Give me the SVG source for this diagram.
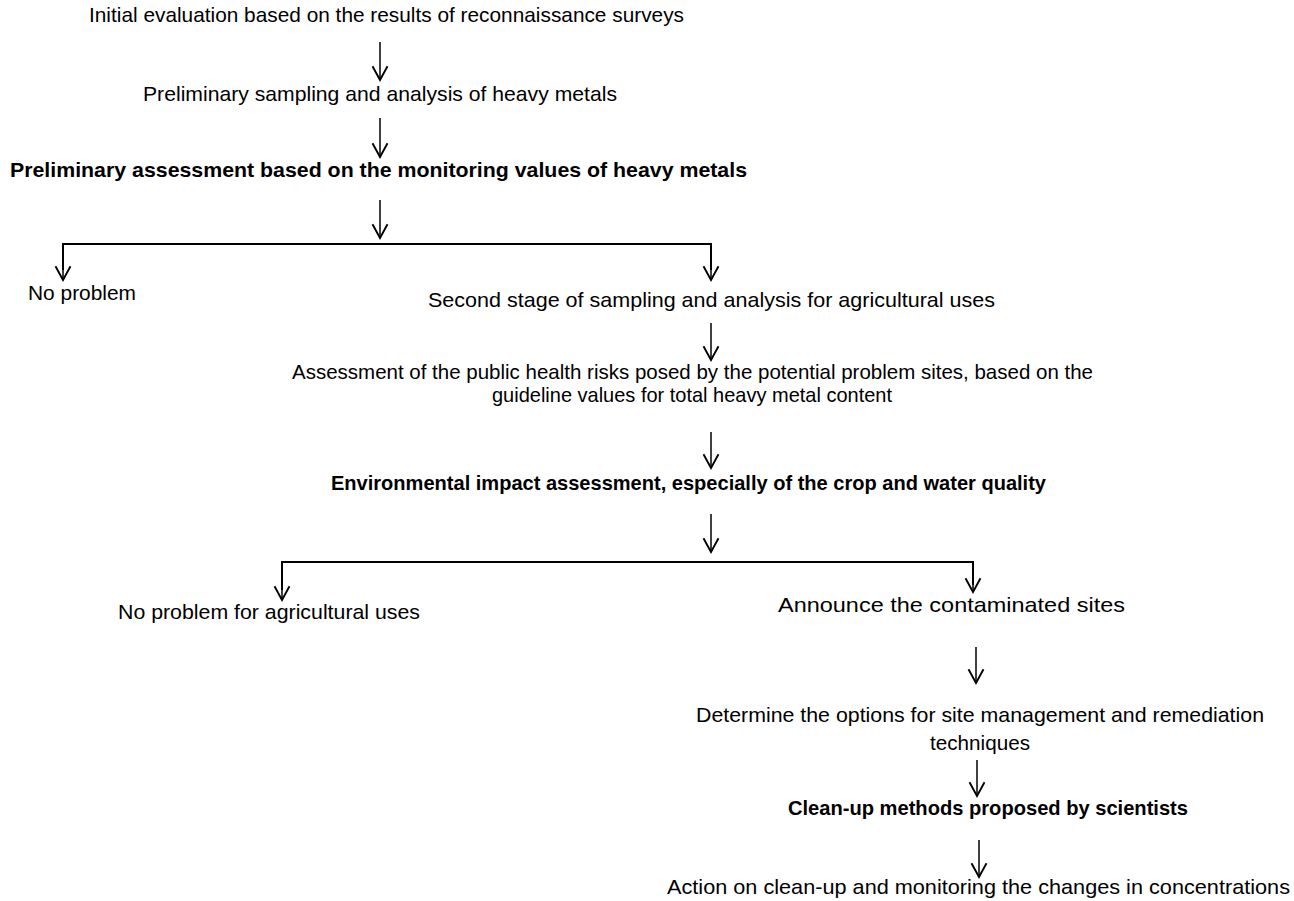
<svg xmlns="http://www.w3.org/2000/svg" width="1294" height="901" viewBox="0 0 1294 901">
<style>
.t{font-family:"Liberation Sans",Arial,sans-serif;font-size:21px;fill:#000}
.b{font-family:"Liberation Sans",Arial,sans-serif;font-size:21px;font-weight:bold;fill:#000}
.a{stroke:#000;stroke-width:1.5;fill:none;marker-end:url(#v)}
.h{stroke:#000;stroke-width:2;fill:none}
</style>
<defs>
<marker id="v" markerUnits="userSpaceOnUse" markerWidth="20" markerHeight="20" viewBox="-13 -8 15 16" refX="0" refY="0" orient="auto">
<path d="M-11,-6 L0,0 L-11,6" fill="none" stroke="#000" stroke-width="1.5"/>
</marker>
</defs>
<rect width="1294" height="901" fill="#fff"/>
<g id="connectors">
<line class="a" x1="380" y1="42" x2="380" y2="80"/>
<line class="a" x1="380" y1="118" x2="380" y2="157"/>
<line class="a" x1="380" y1="200" x2="380" y2="238"/>
<polyline class="h" points="63,270 63,244 711,244 711,270"/>
<line class="a" x1="63" y1="250" x2="63" y2="280"/>
<line class="a" x1="711" y1="250" x2="711" y2="280"/>
<line class="a" x1="711" y1="323" x2="711" y2="360"/>
<line class="a" x1="711" y1="432" x2="711" y2="468"/>
<line class="a" x1="711" y1="514" x2="711" y2="552"/>
<polyline class="h" points="282,590 282,562 973,562 973,585"/>
<line class="a" x1="282" y1="570" x2="282" y2="600"/>
<line class="a" x1="973" y1="570" x2="973" y2="592"/>
<line class="a" x1="976" y1="647" x2="976" y2="683"/>
<line class="a" x1="977" y1="760" x2="977" y2="796"/>
<line class="a" x1="979" y1="840" x2="979" y2="877"/>
</g>
<g id="n1"><text class="t" x="89" y="22" textLength="595" lengthAdjust="spacingAndGlyphs">Initial evaluation based on the results of reconnaissance surveys</text></g>
<g id="n2"><text class="t" x="143" y="101" textLength="474" lengthAdjust="spacingAndGlyphs">Preliminary sampling and analysis of heavy metals</text></g>
<g id="n3"><text class="b" x="10" y="177" textLength="737" lengthAdjust="spacingAndGlyphs">Preliminary assessment based on the monitoring values of heavy metals</text></g>
<g id="n4"><text class="t" x="28" y="300" textLength="108" lengthAdjust="spacingAndGlyphs">No problem</text></g>
<g id="n5"><text class="t" x="428" y="307" textLength="567" lengthAdjust="spacingAndGlyphs">Second stage of sampling and analysis for agricultural uses</text></g>
<g id="n6"><text class="t" x="292" y="379" textLength="801" lengthAdjust="spacingAndGlyphs">Assessment of the public health risks posed by the potential problem sites, based on the</text><text class="t" x="692" y="402" text-anchor="middle" textLength="400" lengthAdjust="spacingAndGlyphs">guideline values for total heavy metal content</text></g>
<g id="n7"><text class="b" x="331" y="490" textLength="715" lengthAdjust="spacingAndGlyphs">Environmental impact assessment, especially of the crop and water quality</text></g>
<g id="n8"><text class="t" x="118" y="619" textLength="302" lengthAdjust="spacingAndGlyphs">No problem for agricultural uses</text></g>
<g id="n9"><text class="t" x="778" y="612" textLength="347" lengthAdjust="spacingAndGlyphs">Announce the contaminated sites</text></g>
<g id="n10"><text class="t" x="696" y="722" textLength="568" lengthAdjust="spacingAndGlyphs">Determine the options for site management and remediation</text><text class="t" x="980" y="750" text-anchor="middle" textLength="100" lengthAdjust="spacingAndGlyphs">techniques</text></g>
<g id="n11"><text class="b" x="788" y="815" textLength="400" lengthAdjust="spacingAndGlyphs">Clean-up methods proposed by scientists</text></g>
<g id="n12"><text class="t" x="667" y="894" textLength="623" lengthAdjust="spacingAndGlyphs">Action on clean-up and monitoring the changes in concentrations</text></g>
</svg>
